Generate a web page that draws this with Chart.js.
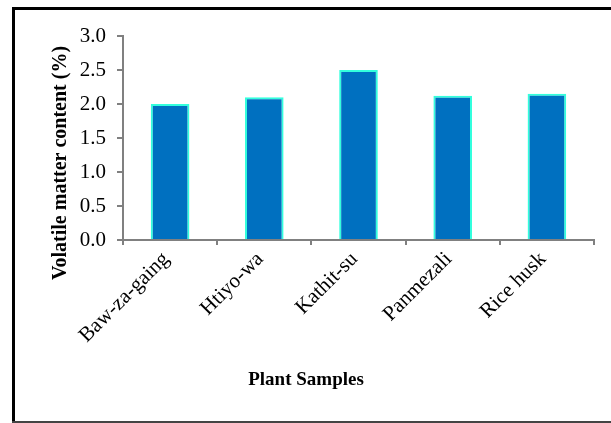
<!DOCTYPE html>
<html>
<head>
<meta charset="utf-8">
<script src="https://cdn.jsdelivr.net/npm/chart.js@4/dist/chart.umd.min.js"></script>
<style>
html,body{margin:0;padding:0;background:#fff;}
#wrap{position:relative;width:611px;height:423px;}
</style>
</head>
<body>
<div id="wrap"><canvas id="c" width="611" height="423"></canvas></div>
<script>
const categories = ["Baw-za-gaing", "Htiyo-wa", "Kathit-su", "Panmezali", "Rice husk"];
const volatileMatter = [2.0, 2.1, 2.5, 2.12, 2.15];
const yTicks = [0.0, 0.5, 1.0, 1.5, 2.0, 2.5, 3.0];
const yTitle = "Volatile matter content (%)";
const xTitle = "Plant Samples";

const SERIF = '"Liberation Serif", "Times New Roman", serif';

const framePlugin = {
  id: 'frame',
  afterDraw(chart) {
    const ctx = chart.ctx;
    ctx.save();
    // outer frame
    ctx.fillStyle = '#000';
    ctx.fillRect(12, 7, 611 - 12, 3);
    ctx.fillRect(12, 7, 3, 423 - 7);
    ctx.fillStyle = '#444';
    ctx.fillRect(12, 421, 611 - 12, 2);
    // axis titles
    ctx.fillStyle = '#000';
    ctx.textAlign = 'center';
    ctx.textBaseline = 'middle';
    ctx.font = 'bold 20px ' + SERIF;
    ctx.save();
    ctx.translate(61, 163);
    ctx.rotate(-Math.PI / 2);
    ctx.fillText(yTitle, 0, 0);
    ctx.restore();
    ctx.font = 'bold 19px ' + SERIF;
    ctx.fillText(xTitle, 306, 380);
    ctx.restore();
  }
};

new Chart(document.getElementById('c'), {
  type: 'bar',
  data: {
    labels: categories,
    datasets: [{
      data: volatileMatter,
      backgroundColor: '#0070C0',
      borderColor: '#33FFDD',
      borderWidth: 2,
      borderSkipped: 'bottom',
      categoryPercentage: 0.41,
      barPercentage: 1.0
    }]
  },
  options: {
    responsive: false,
    animation: false,
    layout: { padding: { left: 14, right: 17, top: 36, bottom: 0 } },
    plugins: { legend: { display: false }, tooltip: { enabled: false } },
    scales: {
      y: {
        min: 0, max: 3,
        afterBuildTicks(s) { s.ticks = yTicks.map(v => ({ value: v })); },
        afterFit(s) { s.width = 123 - 14; },
        border: { color: '#808080', width: 2 },
        grid: { drawOnChartArea: false, tickLength: 6, color: '#808080', lineWidth: 2 },
        ticks: {
          color: '#000',
          padding: 11,
          font: { family: SERIF, size: 21 },
          callback: (v) => Number(v).toFixed(1)
        },
        title: { display: false }
      },
      x: {
        afterFit(s) { s.height = 423 - 240; },
        border: { color: '#808080', width: 2 },
        grid: { drawOnChartArea: false, tickLength: 5, color: '#808080', lineWidth: 2, offset: true },
        ticks: {
          color: '#000',
          minRotation: 45, maxRotation: 45,
          padding: 2,
          labelOffset: -4,
          font: { family: SERIF, size: 21 }
        },
        title: { display: false }
      }
    }
  },
  plugins: [framePlugin]
});
</script>
</body>
</html>
